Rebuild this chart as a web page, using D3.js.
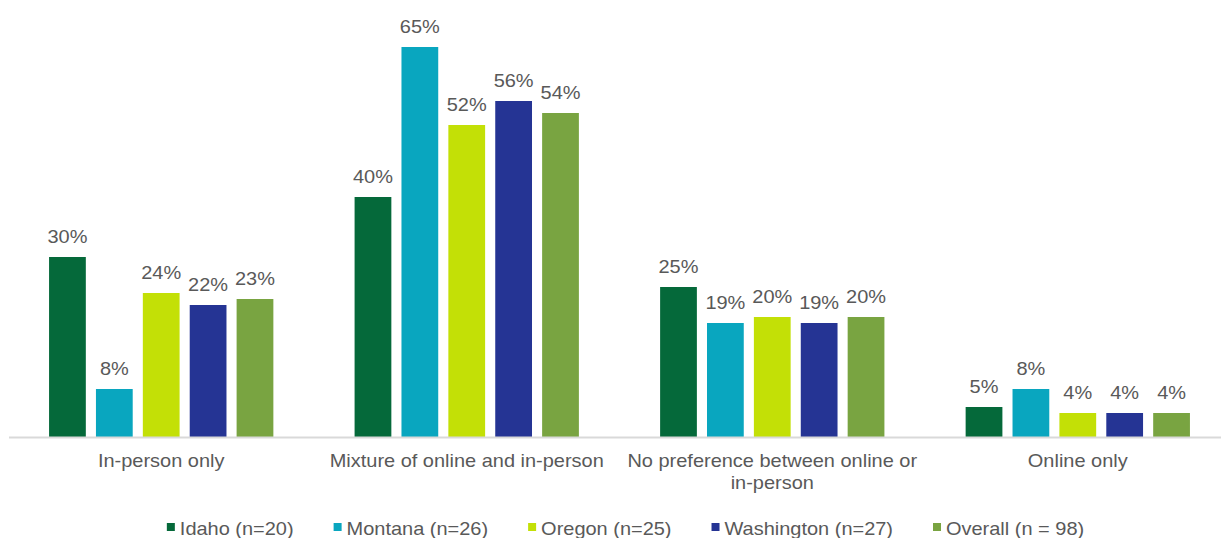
<!DOCTYPE html>
<html>
<head>
<meta charset="utf-8">
<script src="https://cdn.jsdelivr.net/npm/d3@7"></script>
<style>
  html, body { margin: 0; padding: 0; background: #ffffff; }
  svg { display: block; }
  text { font-family: "Liberation Sans", Arial, sans-serif; fill: #595959; }
</style>
</head>
<body>
<svg id="chart" width="1221" height="538"></svg>
<script>
// Preferred format by state (percent of respondents)
const categories = [
  "In-person only",
  "Mixture of online and in-person",
  "No preference between online or in-person",
  "Online only"
];
const seriesNames = [
  "Idaho (n=20)",
  "Montana (n=26)",
  "Oregon (n=25)",
  "Washington (n=27)",
  "Overall (n = 98)"
];
const idaho      = [30, 40, 25, 5];
const montana    = [8, 65, 19, 8];
const oregon     = [24, 52, 20, 4];
const washington = [22, 56, 19, 4];
const overall    = [23, 54, 20, 4];
const seriesColors = ["#05693a", "#09a6bf", "#c3e006", "#253494", "#79a441"];

const seriesValues = [idaho, montana, oregon, washington, overall];
const series = seriesNames.map((name, i) => ({ name, color: seriesColors[i], values: seriesValues[i] }));

const svg = d3.select("#chart");
const STRETCH = 1.11;   // text is drawn slightly wide
const FONT = 18;

const x0 = d3.scaleBand().domain(categories).range([8.45, 1230.55]).padding(0);
const groupSpan = 224.3;
const x1 = d3.scaleBand()
  .domain(seriesNames)
  .range([(x0.bandwidth() - groupSpan) / 2, (x0.bandwidth() + groupSpan) / 2])
  .paddingInner(0.216)
  .paddingOuter(0);
const y = d3.scaleLinear().domain([0, 65]).range([437, 47]);

// bars and value labels
const groups = svg.append("g").selectAll("g")
  .data(categories)
  .join("g")
  .attr("transform", d => `translate(${x0(d)},0)`);

groups.selectAll("rect")
  .data((c, ci) => series.map(s => ({ name: s.name, color: s.color, v: s.values[ci] })))
  .join("rect")
  .attr("x", d => x1(d.name))
  .attr("width", x1.bandwidth())
  .attr("y", d => y(d.v))
  .attr("height", d => y(0) - y(d.v))
  .attr("fill", d => d.color);

groups.selectAll("g.lbl")
  .data((c, ci) => series.map(s => ({ name: s.name, v: s.values[ci] })))
  .join("g")
  .attr("class", "lbl")
  .attr("transform", d => `translate(${x1(d.name) + x1.bandwidth() / 2},${y(d.v) - 14}) scale(${STRETCH},1)`)
  .append("text")
  .attr("text-anchor", "middle")
  .style("font-size", FONT + "px")
  .text(d => d.v + "%");

// category axis
svg.append("line")
  .attr("x1", 9).attr("x2", 1221)
  .attr("y1", y(0) + 0.5).attr("y2", y(0) + 0.5)
  .attr("stroke", "#d9d9d9").attr("stroke-width", 2);

const maxLabelWidth = x0.bandwidth() / STRETCH - 4;
const catLabels = svg.append("g").selectAll("g")
  .data(categories)
  .join("g")
  .attr("transform", d => `translate(${x0(d) + x0.bandwidth() / 2},467) scale(${STRETCH},1)`);

catLabels.each(function(d) {
  const g = d3.select(this);
  const t = g.append("text").attr("text-anchor", "middle").style("font-size", FONT + "px");
  const words = d.split(" ");
  let line = [];
  let tspan = t.append("tspan").attr("x", 0).attr("dy", 0);
  words.forEach(w => {
    line.push(w);
    tspan.text(line.join(" "));
    if (tspan.node().getComputedTextLength() > maxLabelWidth && line.length > 1) {
      line.pop();
      tspan.text(line.join(" "));
      line = [w];
      tspan = t.append("tspan").attr("x", 0).attr("dy", 22).text(w);
    }
  });
});

// legend
const legend = svg.append("g");
const markerSize = 8;
const markerGap = 5;
const itemGap = 40;
let cursor = 0;
series.forEach(s => {
  const g = legend.append("g");
  g.append("rect")
    .attr("x", 0).attr("y", -12)
    .attr("width", markerSize).attr("height", markerSize)
    .attr("fill", s.color);
  const tg = g.append("g").attr("transform", `translate(${markerSize + markerGap},0) scale(${STRETCH},1)`);
  const t = tg.append("text").style("font-size", FONT + "px").text(s.name);
  const w = markerSize + markerGap + t.node().getComputedTextLength() * STRETCH;
  g.attr("transform", `translate(${cursor},0)`);
  cursor += w + itemGap;
});
const legendWidth = cursor - itemGap;
legend.attr("transform", `translate(${(169 + 1082) / 2 - legendWidth / 2},535)`);
</script>
</body>
</html>
